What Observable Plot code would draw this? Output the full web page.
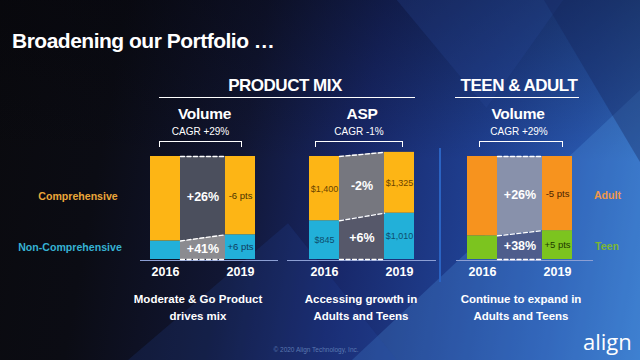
<!DOCTYPE html>
<html><head><meta charset="utf-8">
<script src="https://cdn.jsdelivr.net/npm/d3@7"></script>
<script src="https://cdn.jsdelivr.net/npm/@observablehq/plot@0.6"></script>
<style>
body{margin:0;background:#0b0b10;}
#slide{position:relative;width:640px;height:360px;overflow:hidden;font-family:"Liberation Sans",Arial,sans-serif;color:#fff;
 background:
  linear-gradient(180deg, rgba(4,4,10,0.35) 0%, rgba(4,4,10,0) 45%),
  linear-gradient(100deg, #0a0a0e 0%, #0b0c14 18%, #111633 38%, #18286a 55%, #1f3f90 72%, #2856ad 86%, #3776c8 100%);}
.tri{position:absolute;inset:0;}
.t{position:absolute;white-space:nowrap;line-height:1;}
.c{transform:translate(-50%,-50%);}
.l{transform:translateY(-50%);}
.b{font-weight:bold;}
.rule{position:absolute;background:#fff;}
.br{position:absolute;border:1.3px solid #fff;border-bottom:none;height:6px;box-sizing:border-box;}
.panel{position:absolute;top:140px;}
</style></head>
<body><div id="slide">
<div class="tri" style="clip-path:polygon(55% 100%,100% 25%,100% 100%);background:rgba(90,170,240,0.22)"></div>
<div class="tri" style="clip-path:polygon(62% 0,88% 0,76% 30%);background:rgba(40,70,150,0.25)"></div>
<div class="tri" style="clip-path:polygon(20% 100%,45% 62%,62% 100%);background:rgba(40,80,170,0.18)"></div>
<div class="tri" style="clip-path:polygon(85% 0,100% 0,100% 45%);background:rgba(20,35,90,0.35)"></div>

<div class="t l b" style="left:12px;top:40px;font-size:21px;letter-spacing:-0.5px">Broadening our Portfolio …</div>

<div class="t c b" style="left:285px;top:85px;font-size:17px;letter-spacing:-0.5px">PRODUCT MIX</div>
<div class="rule" style="left:159px;top:96.5px;width:256px;height:1.5px"></div>
<div class="t c b" style="left:519px;top:85px;font-size:17px;letter-spacing:-0.5px">TEEN &amp; ADULT</div>
<div class="rule" style="left:455px;top:96.5px;width:124px;height:1.5px"></div>

<div class="t c b" style="left:204.5px;top:113.5px;font-size:15.5px;letter-spacing:-0.3px">Volume</div>
<div class="t c b" style="left:362px;top:113.5px;font-size:15.5px;letter-spacing:-0.3px">ASP</div>
<div class="t c b" style="left:518px;top:113.5px;font-size:15.5px;letter-spacing:-0.3px">Volume</div>

<div id="cagr"></div>
<div class="br" style="left:159px;top:141px;width:83px"></div>
<div class="br" style="left:315px;top:141px;width:88px"></div>
<div class="br" style="left:479px;top:141px;width:84px"></div>

<div id="legend"></div>

<div style="position:absolute;left:439px;top:148px;width:2px;height:134px;background:#2b63c2"></div>

<div class="panel" id="p1" style="left:124.5px"></div>
<div class="panel" id="p2" style="left:284px"></div>
<div class="panel" id="p3" style="left:441.5px"></div>

<div class="t c b" style="left:198px;top:299.5px;font-size:11.5px">Moderate &amp; Go Product</div>
<div class="t c b" style="left:198px;top:316.5px;font-size:11.5px">drives mix</div>
<div class="t c b" style="left:361px;top:299.5px;font-size:11.5px">Accessing growth in</div>
<div class="t c b" style="left:361px;top:316.5px;font-size:11.5px">Adults and Teens</div>
<div class="t c b" style="left:521px;top:299.5px;font-size:11.5px">Continue to expand in</div>
<div class="t c b" style="left:521px;top:316.5px;font-size:11.5px">Adults and Teens</div>

<div class="t c" style="left:316px;top:350px;font-size:6.5px;color:#5a78b0">© 2020 Align Technology, Inc.</div>
<div class="t" style="left:583px;top:329.5px;font-size:22px;font-family:'Open Sans',sans-serif;color:#fff">align</div>
</div>
<script>
// ---- data ----
const years = [2016, 2019];
const mixSegments = ["Non-Comprehensive", "Comprehensive"];
const ageSegments = ["Teen", "Adult"];
// Volume share (%) by product
const volumeNonComp = [18, 24];
const volumeComp = [82, 76];
const volumeBarLabels = [["", "+6 pts"], ["", "-6 pts"]];
const volumeChange = ["+41%", "+26%"];
// ASP ($)
const aspNonComp = [845, 1010];
const aspComp = [1400, 1325];
const aspChange = ["+6%", "-2%"];
// Teen & Adult volume share (%)
const teenShare = [23, 28];
const adultShare = [77, 72];
const ageBarLabels = [["", "+5 pts"], ["", "-5 pts"]];
const ageChange = ["+38%", "+26%"];
const cagrLabels = ["CAGR +29%", "CAGR -1%", "CAGR +29%"];

// ---- styles ----
const mixFills = ["#22b0d9", "#fdb515"];
const ageFills = ["#7cc41f", "#f7931e"];
const mixInks = ["#0f3a5c", "#4a3300"];
const ageInks = ["#1f3a00", "#4a2200"];
const H = 0.6; // half bar width in years
const font = "Liberation Sans, Arial, sans-serif";

function panel({segments, values, barLabels, change, fills, inks, connFills, ext, labelSize}) {
  const rows = segments.flatMap((s, i) => years.map((yr, j) => ({
    seg: s, year: yr, value: values[i][j], label: barLabels[i][j], fill: fills[i], ink: inks[i]})));
  const conn = segments.flatMap((s, i) => years.map((yr, j) => ({
    seg: s, x: j === 0 ? yr + H : yr - H, value: values[i][j], fill: connFills[i]})));
  const changeRows = segments.map((s, i) => ({seg: s, x: d3.mean(years), value: d3.mean(values[i]), text: change[i]}));
  return Plot.plot({
    width: 160, height: 145,
    marginLeft: 25, marginRight: 30, marginTop: 16, marginBottom: 26,
    x: {domain: [years[0] - H, years[1] + H]},
    y: {domain: [0, d3.sum(values, v => v[0])], axis: null},
    style: {background: "transparent", color: "white", fontFamily: font, overflow: "visible"},
    marks: [
      Plot.ruleY([0], {stroke: "#8c9fd4", strokeWidth: 1.2, insetLeft: -ext[0], insetRight: -ext[1], dy: 1}),
      Plot.areaY(conn, {x: "x", y: "value", z: "seg", fill: "fill"}),
      Plot.rect(rows, Plot.stackY({x: "year", x1: d => d.year - H, x2: d => d.year + H, y: "value", z: "seg", fill: "fill"})),
      Plot.lineY(conn, Plot.stackY2({x: "x", y: "value", z: "seg", stroke: "white", strokeWidth: 1.4, strokeDasharray: "4 2.5"})),
      Plot.lineY(conn.filter(d => d.seg === segments[0]), Plot.stackY1({x: "x", y: "value", z: "seg", stroke: "white", strokeWidth: 1.4, strokeDasharray: "4 2.5"})),
      Plot.text(rows, Plot.stackY({x: "year", y: "value", z: "seg", text: "label", fill: "ink", fontSize: labelSize})),
      Plot.text(changeRows, Plot.stackY({x: "x", y: "value", z: "seg", text: "text", fill: "white", fontWeight: "bold", fontSize: 12.5})),
      Plot.axisX({ticks: years, tickFormat: d => `${d}`, tickSize: 0, tickPadding: 8, fontSize: 12.5, fontWeight: "bold", fill: "white"})
    ]
  });
}

document.getElementById("p1").append(panel({
  segments: mixSegments, values: [volumeNonComp, volumeComp], barLabels: volumeBarLabels, change: volumeChange,
  fills: mixFills, inks: mixInks, connFills: ["#8b8b90", "#4b4f5d"], ext: [10, 23], labelSize: 9.5}));
const fmt = d3.format("$,");
document.getElementById("p2").append(panel({
  segments: mixSegments, values: [aspNonComp, aspComp],
  barLabels: [aspNonComp.map(fmt), aspComp.map(fmt)], change: aspChange,
  fills: mixFills, inks: ["#0e4d6e", "#6b4300"], connFills: ["#56586a", "#76777f"], ext: [22, 22], labelSize: 9}));
document.getElementById("p3").append(panel({
  segments: ageSegments, values: [teenShare, adultShare], barLabels: ageBarLabels, change: ageChange,
  fills: ageFills, inks: ageInks, connFills: ["#4e5d8c", "#8891ab"], ext: [11, 21], labelSize: 9.5}));

// CAGR labels
const cagrX = [200.5, 359, 519];
document.getElementById("cagr").innerHTML = cagrLabels.map((t, i) =>
  `<div class="t c" style="left:${cagrX[i]}px;top:132px;font-size:10px">${t}</div>`).join("");

// segment legends
const legend = [
  {text: mixSegments[1], x: 78, y: 195.5, color: "#eaa73a"},
  {text: mixSegments[0], x: 70, y: 247, color: "#36b2d3"},
  {text: ageSegments[1], x: 607.5, y: 194.5, color: "#f0984a"},
  {text: ageSegments[0], x: 607, y: 245.5, color: "#7cb634"}
];
document.getElementById("legend").innerHTML = legend.map(d =>
  `<div class="t c b" style="left:${d.x}px;top:${d.y}px;font-size:10.6px;color:${d.color}">${d.text}</div>`).join("");
</script>
</body></html>
